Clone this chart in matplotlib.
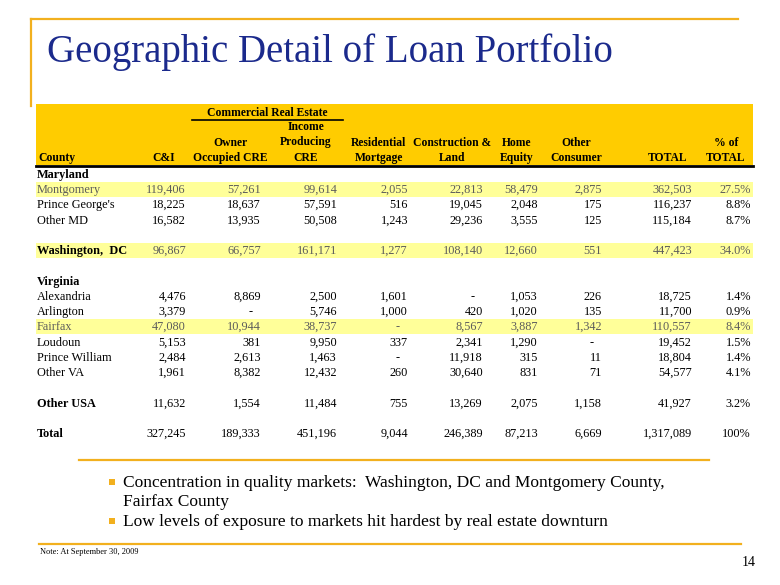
import matplotlib.pyplot as plt
from matplotlib.patches import Rectangle

plt.rcParams["font.family"] = ["Liberation Serif", "DejaVu Serif"]

# --- table data (None = no value in that row, 0 shown as "-") ---
row_labels = ["Maryland", "Montgomery", "Prince George's", "Other MD", "",
              "Washington,  DC", "", "Virginia", "Alexandria", "Arlington",
              "Fairfax", "Loudoun", "Prince William", "Other VA", "",
              "Other USA", "", "Total"]
bold_rows = ["Maryland", "Washington,  DC", "Virginia", "Other USA", "Total"]
highlight_rows = ["Montgomery", "Washington,  DC", "Fairfax"]

c_and_i = [None, 119406, 18225, 16582, None, 96867, None, None, 4476, 3379,
           47080, 5153, 2484, 1961, None, 11632, None, 327245]
owner_cre = [None, 57261, 18637, 13935, None, 66757, None, None, 8869, 0,
             10944, 381, 2613, 8382, None, 1554, None, 189333]
income_cre = [None, 99614, 57591, 50508, None, 161171, None, None, 2500, 5746,
              38737, 9950, 1463, 12432, None, 11484, None, 451196]
residential = [None, 2055, 516, 1243, None, 1277, None, None, 1601, 1000,
               0, 337, 0, 260, None, 755, None, 9044]
construction = [None, 22813, 19045, 29236, None, 108140, None, None, 0, 420,
                8567, 2341, 11918, 30640, None, 13269, None, 246389]
home_equity = [None, 58479, 2048, 3555, None, 12660, None, None, 1053, 1020,
               3887, 1290, 315, 831, None, 2075, None, 87213]
other_consumer = [None, 2875, 175, 125, None, 551, None, None, 226, 135,
                  1342, 0, 11, 71, None, 1158, None, 6669]
total = [None, 362503, 116237, 115184, None, 447423, None, None, 18725, 11700,
         110557, 19452, 18804, 54577, None, 41927, None, 1317089]
pct_total = [None, 27.5, 8.8, 8.7, None, 34.0, None, None, 1.4, 0.9,
             8.4, 1.5, 1.4, 4.1, None, 3.2, None, 100]

headers = [["C&I"], ["Owner", "Occupied CRE"], ["Income", "Producing", "CRE"],
           ["Residential", "Mortgage"], ["Construction &", "Land"],
           ["Home", "Equity"], ["Other", "Consumer"], ["TOTAL"],
           ["% of", "TOTAL"]]

bullets = [["Concentration in quality markets:  Washington, DC and Montgomery County,",
            "Fairfax County"],
           ["Low levels of exposure to markets hit hardest by real estate downturn"]]

# --- layout (pixels) ---
col_right = [186, 261, 337, 408, 483, 538, 602, 692, 751]
col_head = [164, 230, 306, 379, 452, 517, 576, 668, 726]
head_lines_y = [161, 145.5, 130]
row_y0, row_dy = 174, 15.25
orange = "#F2B01E"
navy = "#1B2A8C"
gray = "#5C5C5C"
fs = 8.8
fs_head = 8.4

fig = plt.figure(figsize=(7.8, 5.85), dpi=100)
ax = fig.add_axes([0, 0, 1, 1])
ax.set_xlim(0, 780)
ax.set_ylim(585, 0)
ax.axis("off")

# frame lines and title
ax.plot([31, 738], [19, 19], color=orange, lw=1.6)
ax.plot([31, 31], [19, 106], color=orange, lw=1.6)
ax.text(47, 52, "Geographic Detail of Loan Portfolio", fontsize=28,
        color=navy, va="center", ha="left")

# header band
ax.add_patch(Rectangle((36, 104), 717, 61, color="#FFCC00", lw=0))
ax.plot([36, 753], [166, 166], color="black", lw=2)
ax.text(267, 116.5, "Commercial Real Estate", fontsize=fs_head,
        fontweight="bold", ha="center", va="baseline")
ax.plot([192, 343], [119.5, 119.5], color="black", lw=1.2)
ax.text(38, 161, "County", fontsize=fs_head, fontweight="bold", ha="left",
        va="baseline")
for x, lines in zip(col_head, headers):
    for yb, line in zip(head_lines_y, reversed(lines)):
        ax.text(x, yb, line, fontsize=fs_head, fontweight="bold",
                ha="center", va="baseline")

columns = [c_and_i, owner_cre, income_cre, residential, construction,
           home_equity, other_consumer, total]

for i, label in enumerate(row_labels):
    y = row_y0 + i * row_dy
    yb = round(y) + 4
    hl = label in highlight_rows
    if hl:
        ax.add_patch(Rectangle((36, y - 7.5), 717, 15, color="#FFFF99", lw=0))
    if label:
        lab_color = "black" if (label in bold_rows or not hl) else gray
        ax.text(37, yb, label, fontsize=fs, ha="left", va="baseline",
                color=lab_color,
                fontweight="bold" if label in bold_rows else "normal")
    val_color = gray if hl else "black"
    for col, xr in zip(columns, col_right):
        v = col[i]
        if v is None:
            continue
        if v == 0:
            ax.text(xr - 8, yb, "-", fontsize=fs, ha="right", va="baseline",
                    color=val_color)
        else:
            ax.text(xr, yb, f"{v:,}", fontsize=fs, ha="right", va="baseline",
                    color=val_color)
    p = pct_total[i]
    if p is not None:
        s = "100%" if p == 100 else f"{p:.1f}%"
        ax.text(col_right[8], yb, s, fontsize=fs, ha="right", va="baseline",
                color=val_color)

# bullets
ax.plot([79, 709], [460, 460], color=orange, lw=1.6)
line_y = 482
for b in bullets:
    ax.add_patch(Rectangle((109, line_y - 3), 6, 6, color=orange, lw=0))
    for line in b:
        ax.text(123, line_y + 5, line, fontsize=12.5, ha="left",
                va="baseline")
        line_y += 19.5

ax.plot([39, 741], [544, 544], color=orange, lw=1.6)
ax.text(40, 552, "Note: At September 30, 2009", fontsize=6, ha="left",
        va="center")
ax.text(756, 562, "14", fontsize=10, ha="right", va="center")

fig.savefig("out.png", dpi=100)
